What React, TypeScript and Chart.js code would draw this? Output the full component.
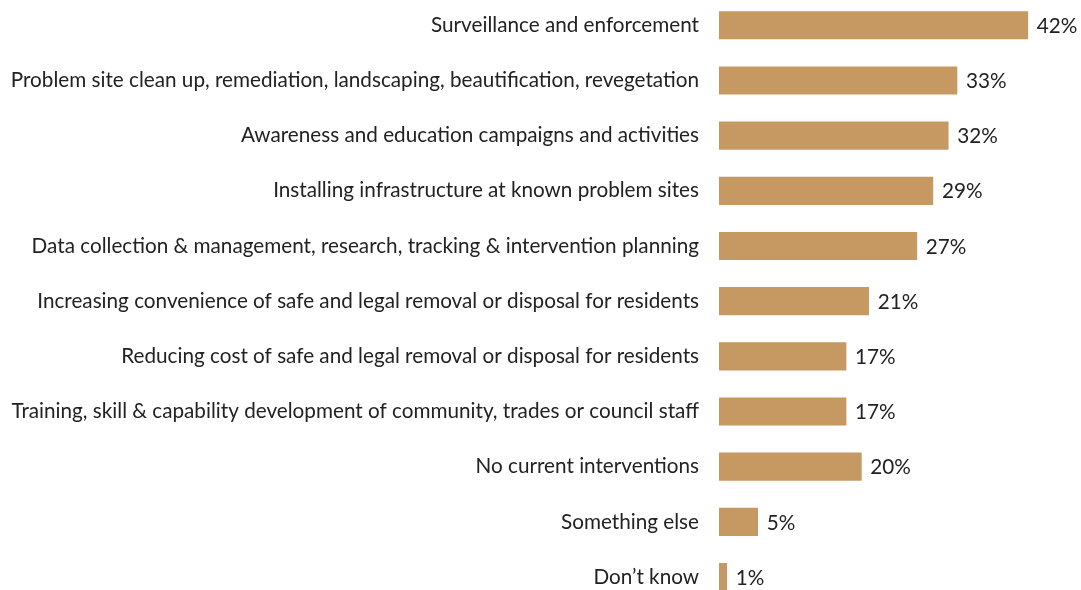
import React, { useEffect, useRef } from "react";
import { Chart, registerables } from "chart.js";

Chart.register(...registerables);

const categories: string[] = [
  "Surveillance and enforcement",
  "Problem site clean up, remediation, landscaping, beautification, revegetation",
  "Awareness and education campaigns and activities",
  "Installing infrastructure at known problem sites",
  "Data collection & management, research, tracking & intervention planning",
  "Increasing convenience of safe and legal removal or disposal for residents",
  "Reducing cost of safe and legal removal or disposal for residents",
  "Training, skill & capability development of community, trades or council staff",
  "No current interventions",
  "Something else",
  "Don\u2019t know",
];

const values: number[] = [42.3, 32.6, 31.4, 29.3, 27.1, 20.5, 17.4, 17.4, 19.5, 5.3, 1.05];

const valueLabels: string[] = ["42%", "33%", "32%", "29%", "27%", "21%", "17%", "17%", "20%", "5%", "1%"];

const FONT = "Lato, 'Noto Sans', sans-serif";
const FONT_SIZE = 20.7;
const TEXT_COLOR = "#222222";
const BAR_COLOR = "#C69862";

const valueLabelPlugin = {
  id: "valueLabels",
  afterDatasetsDraw(chart: any) {
    const meta = chart.getDatasetMeta(0);
    const ctx = chart.ctx;
    ctx.save();
    ctx.font = `${FONT_SIZE}px ${FONT}`;
    ctx.fillStyle = TEXT_COLOR;
    ctx.textAlign = "left";
    ctx.textBaseline = "middle";
    meta.data.forEach((bar: any, i: number) => {
      ctx.fillText(valueLabels[i], bar.x + 9, bar.y + 1);
    });
    ctx.restore();
  },
};

export default function App() {
  const ref = useRef<HTMLCanvasElement | null>(null);

  useEffect(() => {
    document.body.style.margin = "0";
    document.body.style.overflow = "hidden";
    const canvas = ref.current;
    if (!canvas) return;
    const chart = new Chart(canvas, {
      type: "bar",
      data: {
        labels: categories,
        datasets: [
          {
            data: values,
            backgroundColor: BAR_COLOR,
            borderWidth: 0,
            barThickness: 27.5,
          },
        ],
      },
      options: {
        indexAxis: "y",
        responsive: false,
        animation: false,
        devicePixelRatio: 1,
        layout: { padding: { top: 17.7, bottom: 15.4, left: 0, right: 11.6 } },
        plugins: {
          legend: { display: false },
          tooltip: { enabled: false },
        },
        scales: {
          x: {
            display: false,
            min: 0,
            max: 48,
          },
          y: {
            offset: true,
            grid: { display: false, drawTicks: false },
            border: { display: false },
            ticks: {
              padding: 20,
              color: TEXT_COLOR,
              font: { family: FONT, size: FONT_SIZE },
              autoSkip: false,
            },
            afterFit: (scale: any) => {
              scale.width = 719;
              scale.paddingTop = 0;
              scale.paddingBottom = 0;
            },
          },
        },
      },
      plugins: [valueLabelPlugin],
    });
    return () => chart.destroy();
  }, []);

  return (
    <div style={{ height: "590px", overflow: "hidden", position: "relative" }}>
      <canvas
        ref={ref}
        width={1081}
        height={640}
        style={{ display: "block", position: "absolute", left: 0, top: "-20px", width: "1081px", height: "640px" }}
      />
    </div>
  );
}
